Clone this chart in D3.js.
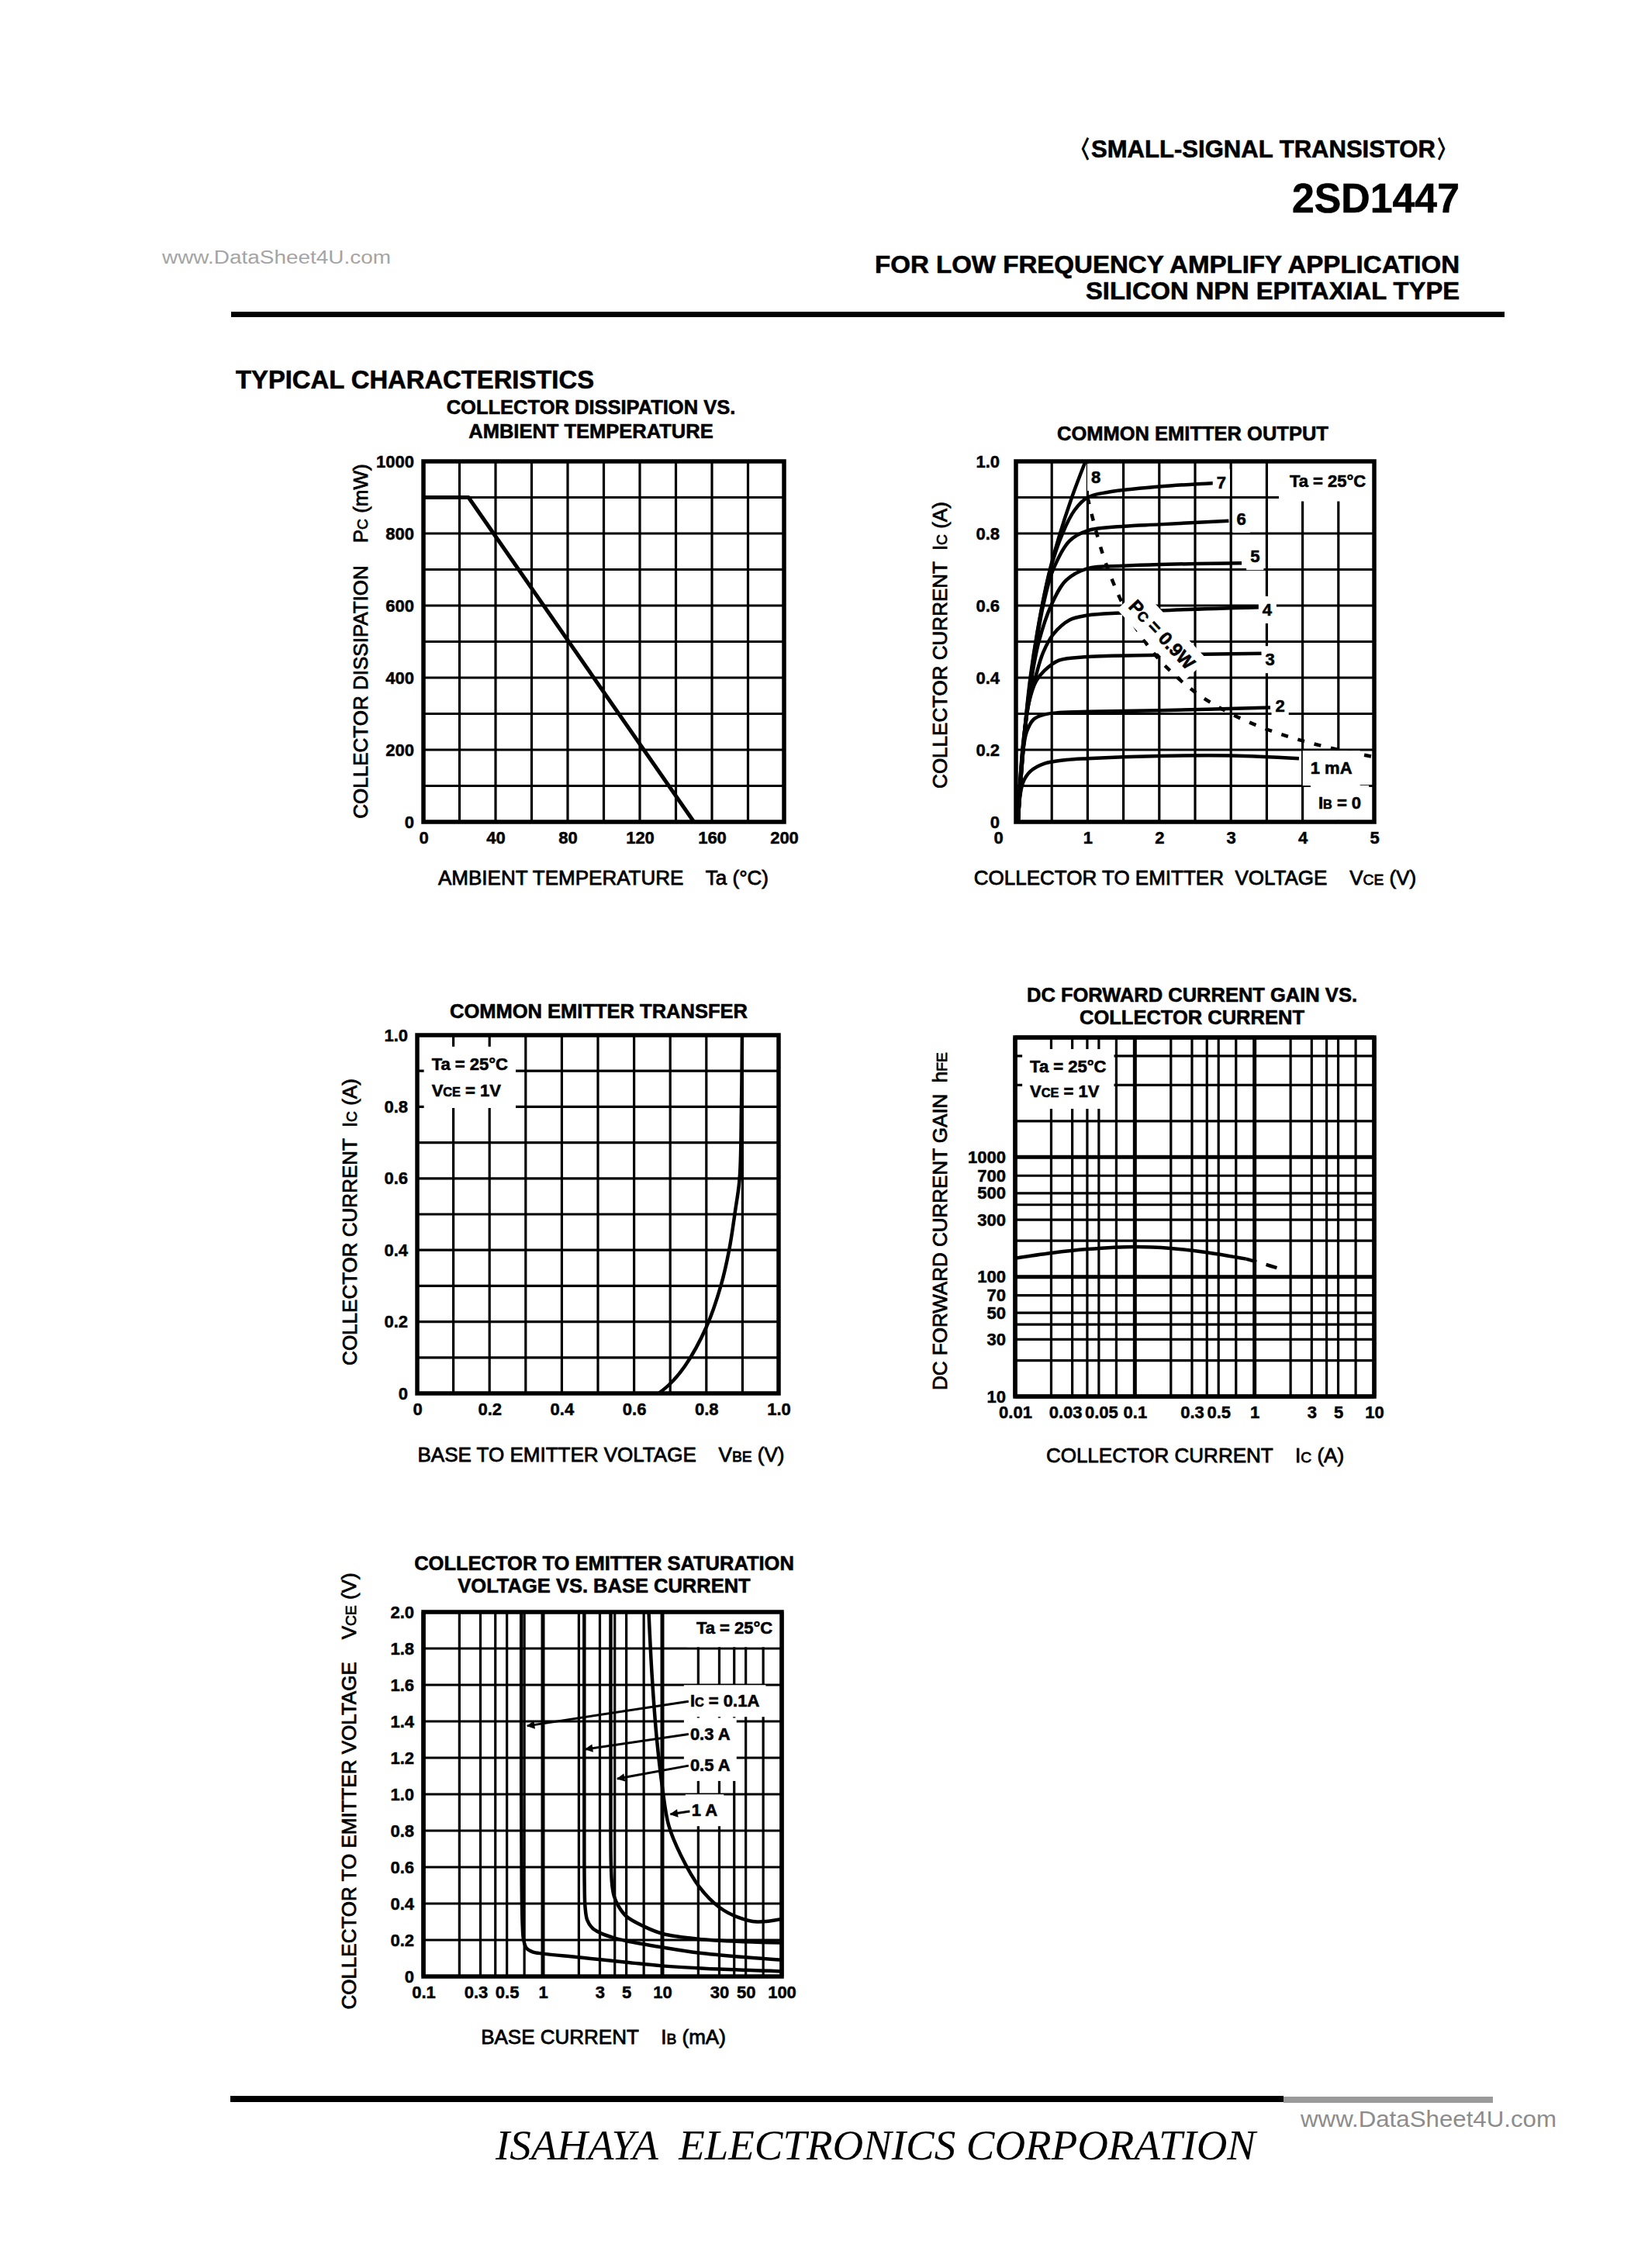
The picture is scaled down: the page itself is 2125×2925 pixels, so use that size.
<!DOCTYPE html>
<html>
<head>
<meta charset="utf-8">
<script src="https://cdn.jsdelivr.net/npm/d3@7"></script>
<style>
  body { margin: 0; background: #fff; }
  text { font-family: "Liberation Sans", Arial, Helvetica, sans-serif; }
</style>
</head>
<body>
<script>
// ---------- values ----------

// collector dissipation vs ambient temperature
var pdTemp = [0, 25, 150];
var pdPower = [900, 900, 0];
var pdXTicks = [0, 40, 80, 120, 160, 200];
var pdYTicks = [0, 200, 400, 600, 800, 1000];
var pdXGrid = d3.range(0, 201, 20);
var pdYGrid = d3.range(0, 1001, 100);

// common emitter output, [Vce (V), Ic (A)] for each base current
var ib1 = [[0.03,0],[0.05,0.06],[0.1,0.11],[0.2,0.14],[0.4,0.162],[0.7,0.172],[1.0,0.176],[2.0,0.183],[3.0,0.184],[3.95,0.176]];
var ib2 = [[0.03,0],[0.05,0.08],[0.09,0.18],[0.15,0.25],[0.25,0.285],[0.4,0.298],[0.6,0.303],[1.0,0.306],[2.0,0.309],[3.55,0.317]];
var ib3 = [[0.03,0],[0.06,0.12],[0.1,0.22],[0.18,0.33],[0.28,0.39],[0.4,0.42],[0.6,0.448],[1.0,0.458],[2.0,0.463],[3.43,0.467]];
var ib4 = [[0.03,0],[0.06,0.12],[0.12,0.25],[0.2,0.35],[0.27,0.4],[0.38,0.47],[0.52,0.52],[0.75,0.56],[1.0,0.573],[1.5,0.58],[2.0,0.586],[3.4,0.595]];
var ib5 = [[0.03,0],[0.07,0.12],[0.14,0.28],[0.22,0.4],[0.32,0.5],[0.49,0.6],[0.7,0.67],[1.0,0.703],[1.5,0.71],[2.0,0.714],[3.15,0.718]];
var ib6 = [[0.03,0],[0.07,0.12],[0.14,0.28],[0.25,0.45],[0.38,0.6],[0.52,0.7],[0.75,0.78],[1.0,0.808],[1.5,0.82],[2.0,0.825],[2.97,0.835]];
var ib7 = [[0.03,0],[0.07,0.12],[0.13,0.27],[0.22,0.42],[0.33,0.56],[0.48,0.7],[0.65,0.8],[0.82,0.865],[1.0,0.9],[1.3,0.915],[2.0,0.93],[2.78,0.94]];
var ib8 = [[0.03,0],[0.06,0.1],[0.12,0.25],[0.2,0.4],[0.3,0.53],[0.45,0.68],[0.6,0.79],[0.78,0.9],[0.97,1.0]];
var outCurves = [ib1, ib2, ib3, ib4, ib5, ib6, ib7, ib8];
var outNames = ["1 mA", "2", "3", "4", "5", "6", "7", "8"];
var pcLine = [[1.0,0.9],[1.1,0.82],[1.25,0.72],[1.5,0.6],[1.75,0.515],[2.0,0.45],[2.5,0.36],[3.0,0.3],[3.5,0.257],[4.0,0.225],[4.5,0.2],[5.0,0.18]];
var outXTicks = [0, 1, 2, 3, 4, 5];
var outYTicks = [0, 0.2, 0.4, 0.6, 0.8, 1.0];
var outXGrid = d3.range(0, 5.01, 0.5);
var outYGrid = d3.range(0, 1.001, 0.1);

// common emitter transfer
var tfVbe = [0.668, 0.7, 0.74, 0.8, 0.84, 0.863, 0.88, 0.892, 0.897, 0.899];
var tfIc = [0, 0.027, 0.075, 0.185, 0.3, 0.4, 0.51, 0.6, 0.8, 1.0];
var tfTicks = [0, 0.2, 0.4, 0.6, 0.8, 1.0];
var tfGrid = d3.range(0, 1.001, 0.1);

// dc forward current gain vs collector current
var hfeIc = [0.01, 0.02, 0.04, 0.1, 0.2, 0.4, 0.85];
var hfeVal = [143, 158, 170, 178, 173, 160, 141];
var hfeIcDash = [0.85, 1.2, 1.65];
var hfeValDash = [141, 128, 116];
var hfeXTicks = [0.01, 0.03, 0.05, 0.1, 0.3, 0.5, 1, 3, 5, 10];
var hfeYTicks = [10, 30, 50, 70, 100, 300, 500, 700, 1000];
var hfeXGrid = [0.01,0.02,0.03,0.04,0.05,0.07,0.1,0.2,0.3,0.4,0.5,0.7,1,2,3,4,5,7,10];
var hfeYGrid = [10,20,30,40,50,70,100,200,300,400,500,700,1000,2000,4000,7000,10000];

// collector-emitter saturation voltage, [Ib (mA), Vce (V)]
var sat01 = [[0.66,2.0],[0.66,1.0],[0.665,0.5],[0.675,0.28],[0.69,0.2],[0.73,0.155],[0.82,0.135],[1.0,0.125],[2,0.105],[5,0.078],[10,0.058],[30,0.04],[100,0.028]];
var sat03 = [[2.22,2.0],[2.22,1.0],[2.23,0.5],[2.26,0.38],[2.35,0.31],[2.6,0.265],[3.0,0.24],[4,0.21],[5,0.195],[10,0.16],[20,0.13],[50,0.105],[100,0.09]];
var sat05 = [[3.7,2.0],[3.7,1.0],[3.72,0.62],[3.8,0.5],[3.95,0.44],[4.3,0.385],[5,0.33],[7,0.275],[10,0.235],[20,0.205],[50,0.19],[100,0.185]];
var sat1 = [[7.7,2.0],[8.2,1.65],[9.0,1.3],[10,1.04],[11.3,0.83],[14.3,0.665],[20.5,0.49],[30,0.38],[43,0.325],[62,0.3],[100,0.315]];
var satCurves = [sat01, sat03, sat05, sat1];
var satXTicks = [0.1, 0.3, 0.5, 1, 3, 5, 10, 30, 50, 100];
var satYTicks = [0, 0.2, 0.4, 0.6, 0.8, 1.0, 1.2, 1.4, 1.6, 1.8, 2.0];
var satXGrid = [0.1,0.2,0.3,0.4,0.5,0.7,1,2,3,4,5,7,10,20,30,40,50,70,100];

// ---------- page ----------
var svg = d3.select("body").append("svg").attr("width", 2125).attr("height", 2925);
svg.append("rect").attr("width", 2125).attr("height", 2925).attr("fill", "#fff");

var defs = svg.append("defs");
defs.append("marker").attr("id", "head").attr("viewBox", "0 0 10 10")
  .attr("refX", 9).attr("refY", 5).attr("markerWidth", 4.5).attr("markerHeight", 3.5)
  .attr("orient", "auto").append("path").attr("d", "M0,0L10,5L0,10z").attr("fill", "#000");

function rich(sel, parts, size) {
  parts.forEach(function (p) {
    var small = p.charAt(0) === "_";
    sel.append("tspan").attr("font-size", small ? size * 0.74 : size).text(small ? p.slice(1) : p);
  });
  return sel;
}
// scanned print is heavy, so bold text gets a thin outline too
function label(parent, x, y, parts, size, weight, anchor) {
  var t = parent.append("text").attr("x", x).attr("y", y).attr("font-size", size)
    .attr("font-weight", weight || "bold").attr("text-anchor", anchor || "start")
    .attr("xml:space", "preserve");
  if ((weight || "bold") === "bold") t.attr("stroke", "#000").attr("stroke-width", 0.6);
  return rich(t, parts, size);
}
function backed(g, pad) {
  var b = g.node().getBBox();
  g.insert("rect", ":first-child").attr("x", b.x - pad).attr("y", b.y - pad)
    .attr("width", b.width + 2 * pad).attr("height", b.height + 2 * pad).attr("fill", "#fff");
  return g;
}
function decade(d) {
  var l = Math.log10(d);
  return Math.abs(l - Math.round(l)) < 1e-9;
}
function dec1(d) { return d === 0 ? "0" : d.toFixed(1); }

var clipId = 0;
function panel(o) {
  var g = svg.append("g");
  var x = (o.xlog ? d3.scaleLog() : d3.scaleLinear()).domain(o.xd).range([o.x0, o.x1]);
  var y = (o.ylog ? d3.scaleLog() : d3.scaleLinear()).domain(o.yd).range([o.y1, o.y0]);
  var id = "clip" + (clipId++);
  defs.append("clipPath").attr("id", id).append("rect")
    .attr("x", o.x0).attr("y", o.y0).attr("width", o.x1 - o.x0).attr("height", o.y1 - o.y0);

  g.append("g").selectAll("line").data(o.xg).join("line")
    .attr("x1", function (d) { return x(d); }).attr("x2", function (d) { return x(d); })
    .attr("y1", o.y0).attr("y2", o.y1).attr("stroke", "#000")
    .attr("stroke-width", function (d) { return o.xlog && decade(d) ? 5 : 3.2; });
  g.append("g").selectAll("line").data(o.yg).join("line")
    .attr("y1", function (d) { return y(d); }).attr("y2", function (d) { return y(d); })
    .attr("x1", o.x0).attr("x2", o.x1).attr("stroke", "#000")
    .attr("stroke-width", function (d) { return o.ylog && decade(d) ? 5 : 3.2; });

  o.title.forEach(function (s, i) { label(svg, o.tx, o.ty[i], [s], 25.5, "bold", "middle"); });

  var ax = g.append("g").attr("transform", "translate(0," + o.y1 + ")")
    .call(d3.axisBottom(x).tickValues(o.xt).tickFormat(o.xf).tickSize(0).tickPadding(12));
  var ay = g.append("g").attr("transform", "translate(" + o.x0 + ",0)")
    .call(d3.axisLeft(y).tickValues(o.yt).tickFormat(o.yf).tickSize(0).tickPadding(o.ypad || 12));
  [ax, ay].forEach(function (a) {
    a.select(".domain").remove();
    a.attr("font-size", 22).attr("font-weight", "bold").attr("font-family", null);
    a.selectAll("text").attr("fill", "#000").attr("stroke", "#000").attr("stroke-width", 0.5);
  });
  if (o.xshift) {
    ax.selectAll(".tick text").attr("dx", function (d) { return o.xshift[d] || 0; });
  }

  label(svg, o.xtx, o.xty, o.xlab, 26, "normal", "middle")
    .attr("stroke", "#000").attr("stroke-width", 0.8);
  label(svg, 0, 0, o.ylab, 26, "normal", "middle")
    .attr("transform", "translate(" + o.ytx + "," + o.yty + ") rotate(-90)")
    .attr("dy", "0.36em").attr("stroke", "#000").attr("stroke-width", 0.8);

  var plot = g.append("g").attr("clip-path", "url(#" + id + ")");
  var notes = g.append("g");
  return { g: g, plot: plot, notes: notes, x: x, y: y, o: o };
}
function frame(p) {
  p.g.append("rect").attr("x", p.o.x0).attr("y", p.o.y0)
    .attr("width", p.o.x1 - p.o.x0).attr("height", p.o.y1 - p.o.y0)
    .attr("fill", "none").attr("stroke", "#000").attr("stroke-width", 5.5);
}
function trace(p, pts, smooth) {
  return d3.line().x(function (d) { return p.x(d[0]); }).y(function (d) { return p.y(d[1]); })
    .curve(smooth ? d3.curveCatmullRom.alpha(0.5) : d3.curveLinear)(pts);
}
function curve(p, pts, smooth, width, dash) {
  return p.plot.append("path").attr("d", trace(p, pts, smooth)).attr("fill", "none")
    .attr("stroke", "#000").attr("stroke-width", width || 4.5)
    .attr("stroke-linejoin", "round").attr("stroke-dasharray", dash || null);
}

// ---------- header ----------
label(svg, 1376, 203, ["\u3008SMALL-SIGNAL TRANSISTOR\u3009"], 31, "bold").attr("textLength", 506).attr("lengthAdjust", "spacingAndGlyphs");
label(svg, 1666, 274, ["2SD1447"], 54, "bold").attr("textLength", 216).attr("lengthAdjust", "spacingAndGlyphs");
label(svg, 1128, 352, ["FOR LOW FREQUENCY AMPLIFY APPLICATION"], 31, "bold").attr("textLength", 754).attr("lengthAdjust", "spacingAndGlyphs");
label(svg, 1400, 386, ["SILICON NPN EPITAXIAL TYPE"], 31, "bold").attr("textLength", 482).attr("lengthAdjust", "spacingAndGlyphs");
svg.append("rect").attr("x", 298).attr("y", 402).attr("width", 1642).attr("height", 7).attr("fill", "#000");
label(svg, 209, 340, ["www.DataSheet4U.com"], 23, "normal").attr("fill", "#a4a4a4").attr("textLength", 295).attr("lengthAdjust", "spacingAndGlyphs");

label(svg, 304, 501, ["TYPICAL CHARACTERISTICS"], 33, "bold").attr("textLength", 462).attr("lengthAdjust", "spacingAndGlyphs");

// ---------- collector dissipation ----------
var pA = panel({
  x0: 546, x1: 1011, y0: 595, y1: 1060, xd: [0, 200], yd: [0, 1000],
  xg: pdXGrid, yg: pdYGrid, xt: pdXTicks, yt: pdYTicks,
  xf: function (d) { return d; }, yf: function (d) { return d; },
  title: ["COLLECTOR DISSIPATION VS.", "AMBIENT TEMPERATURE"], tx: 762, ty: [534, 565],
  xlab: ["AMBIENT TEMPERATURE    Ta (\u00b0C)"], xtx: 778, xty: 1141,
  ylab: ["COLLECTOR DISSIPATION    P", "_C", " (mW)"], ytx: 465, yty: 827
});
curve(pA, d3.zip(pdTemp, pdPower), false, 5);
frame(pA);

// ---------- common emitter output ----------
var pB = panel({
  x0: 1310, x1: 1772, y0: 595, y1: 1060, xd: [0, 5], yd: [0, 1],
  xg: outXGrid, yg: outYGrid, xt: outXTicks, yt: outYTicks,
  xf: function (d) { return d; }, yf: dec1, ypad: 21, xshift: { 0: -23 },
  title: ["COMMON EMITTER OUTPUT"], tx: 1538, ty: [568],
  xlab: ["COLLECTOR TO EMITTER  VOLTAGE    V", "_CE", " (V)"], xtx: 1541, xty: 1141,
  ylab: ["COLLECTOR CURRENT  I", "_C", " (A)"], ytx: 1212, yty: 832
});
outCurves.forEach(function (c) { curve(pB, c, true, 4.5); });
curve(pB, pcLine, true, 4.5, "9,13");
var outTagAt = [[4.11,0.133],[3.62,0.305],[3.48,0.434],[3.44,0.572],[3.27,0.72],[3.08,0.824],[2.8,0.925],[1.05,0.94]];
outNames.forEach(function (n, i) {
  var t = pB.notes.append("g");
  label(t, pB.x(outTagAt[i][0]), pB.y(outTagAt[i][1]), [n], 22, "bold");
  backed(t, i === 0 ? 10 : 5);
});
var ib0 = pB.notes.append("g");
label(ib0, pB.x(4.22), pB.y(0.037), ["I", "_B", " = 0"], 22, "bold");
backed(ib0, 10);
var taB = pB.notes.append("g");
label(taB, pB.x(3.82), pB.y(0.93), ["Ta = 25\u00b0C"], 22, "bold");
backed(taB, 14);
var pcTag = pB.notes.append("g")
  .attr("transform", "translate(" + pB.x(2.04) + "," + pB.y(0.52) + ") rotate(47)");
label(pcTag, 0, 0, ["P", "_C", " = 0.9W"], 24, "bold", "middle").attr("dy", "0.36em");
backed(pcTag, 7);
frame(pB);

// ---------- common emitter transfer ----------
var pC = panel({
  x0: 538, x1: 1004, y0: 1335, y1: 1797, xd: [0, 1], yd: [0, 1],
  xg: tfGrid, yg: tfGrid, xt: tfTicks, yt: tfTicks, xf: dec1, yf: dec1,
  title: ["COMMON EMITTER TRANSFER"], tx: 772, ty: [1313],
  xlab: ["BASE TO EMITTER VOLTAGE    V", "_BE", " (V)"], xtx: 775, xty: 1885,
  ylab: ["COLLECTOR CURRENT  I", "_C", " (A)"], ytx: 451, yty: 1576
});
curve(pC, d3.zip(tfVbe, tfIc), true, 4.5);
var legC = pC.notes.append("g");
label(legC, pC.x(0.04), pC.y(0.903), ["Ta = 25\u00b0C"], 22, "bold");
label(legC, pC.x(0.04), pC.y(0.829), ["V", "_CE", " = 1V"], 22, "bold");
backed(legC, 10);
frame(pC);

// ---------- dc forward current gain ----------
var pD = panel({
  x0: 1309, x1: 1772, y0: 1338, y1: 1801, xd: [0.01, 10], yd: [10, 10000], xlog: true, ylog: true,
  xg: hfeXGrid, yg: hfeYGrid, xt: hfeXTicks, yt: hfeYTicks,
  xf: function (d) { return String(d); }, yf: function (d) { return String(d); },
  xshift: { 0.03: -9, 0.05: 3 },
  title: ["DC FORWARD CURRENT GAIN VS.", "COLLECTOR CURRENT"], tx: 1537, ty: [1292, 1321],
  xlab: ["COLLECTOR CURRENT    I", "_C", " (A)"], xtx: 1541, xty: 1886,
  ylab: ["DC FORWARD CURRENT GAIN  h", "_FE"], ytx: 1212, yty: 1575
});
curve(pD, d3.zip(hfeIc, hfeVal), true, 4.5);
curve(pD, d3.zip(hfeIcDash, hfeValDash), true, 4.5, "14,13");
var legD = pD.notes.append("g");
label(legD, pD.x(0.0133), pD.y(5110), ["Ta = 25\u00b0C"], 22, "bold");
label(legD, pD.x(0.0133), pD.y(3170), ["V", "_CE", " = 1V"], 22, "bold");
backed(legD, 10);
frame(pD);

// ---------- saturation voltage ----------
var pE = panel({
  x0: 546, x1: 1008, y0: 2079, y1: 2549, xd: [0.1, 100], yd: [0, 2], xlog: true,
  xg: satXGrid, yg: satYTicks, xt: satXTicks, yt: satYTicks,
  xf: function (d) { return String(d); }, yf: dec1, xshift: { 0.3: -6 },
  title: ["COLLECTOR TO EMITTER SATURATION", "VOLTAGE VS. BASE CURRENT"], tx: 779, ty: [2025, 2054],
  xlab: ["BASE CURRENT    I", "_B", " (mA)"], xtx: 778, xty: 2636,
  ylab: ["COLLECTOR TO EMITTER VOLTAGE    V", "_CE", " (V)"], ytx: 450, yty: 2310
});
satCurves.forEach(function (c) { curve(pE, c, true, 4.5); });
var satTags = [["I", "_C", " = 0.1A"], ["0.3 A"], ["0.5 A"], ["1 A"]];
var satTagAt = [[17.1, 1.48], [17.1, 1.30], [17.1, 1.128], [17.6, 0.88]];
var satTip = [[0.74, 1.375], [2.27, 1.247], [4.2, 1.085], [11.7, 0.89]];
var satFrom = [[16.6, 1.51], [16.6, 1.33], [16.6, 1.157], [17.0, 0.906]];
satTags.forEach(function (s, i) {
  var t = pE.notes.append("g");
  label(t, pE.x(satTagAt[i][0]), pE.y(satTagAt[i][1]), s, 22, "bold");
  backed(t, 8);
});
satTip.forEach(function (d, i) {
  pE.notes.append("line")
    .attr("x1", pE.x(satFrom[i][0])).attr("y1", pE.y(satFrom[i][1]))
    .attr("x2", pE.x(d[0])).attr("y2", pE.y(d[1]))
    .attr("stroke", "#000").attr("stroke-width", 3).attr("marker-end", "url(#head)");
});
var taE = pE.notes.append("g");
label(taE, pE.x(19.3), pE.y(1.88), ["Ta = 25\u00b0C"], 22, "bold");
backed(taE, 12);
frame(pE);

// ---------- footer ----------
svg.append("rect").attr("x", 297).attr("y", 2703).attr("width", 1358).attr("height", 8).attr("fill", "#000");
svg.append("rect").attr("x", 1655).attr("y", 2704).attr("width", 270).attr("height", 8).attr("fill", "#9a9a9a");
label(svg, 1677, 2743, ["www.DataSheet4U.com"], 30, "normal").attr("fill", "#8c8c8c")
  .attr("textLength", 330).attr("lengthAdjust", "spacingAndGlyphs");
svg.append("text").attr("x", 639).attr("y", 2785).attr("font-size", 54)
  .attr("font-style", "italic").attr("xml:space", "preserve")
  .style("font-family", "'Liberation Serif', 'Times New Roman', serif")
  .attr("textLength", 980).attr("lengthAdjust", "spacingAndGlyphs")
  .text("ISAHAYA  ELECTRONICS CORPORATION");
</script>
</body>
</html>
